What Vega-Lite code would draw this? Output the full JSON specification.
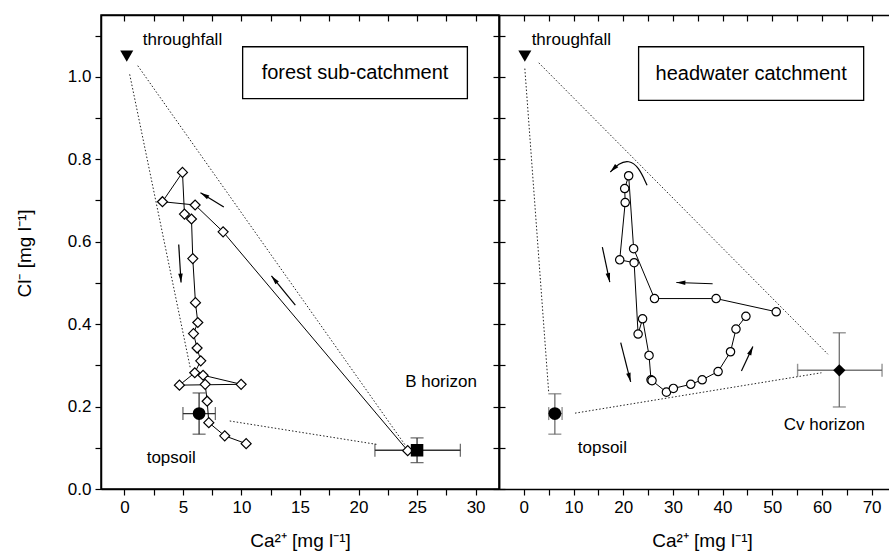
{
  "$schema": "https://vega.github.io/schema/vega-lite/v6.json",
  "autosize": {"type": "pad"},
  "padding": {"left": 14, "top": 13, "right": 0, "bottom": 0},
  "bounds": "flush",
  "spacing": 0,
  "config": {
    "font": "Liberation Sans",
    "view": {"stroke": "#000", "strokeWidth": 1.5},
    "axis": {"grid": false, "domainColor": "#000", "domainWidth": 1.5, "tickColor": "#000", "tickWidth": 1.2, "labelColor": "#000", "labelFont": "Liberation Sans", "labelFontSize": 17, "titleFont": "Liberation Sans", "titleFontSize": 19, "titleFontWeight": "normal", "titleColor": "#000", "tickSize": 6, "labelPadding": 4, "labelOverlap": false, "labelFlush": false}
  },
  "datasets": {
    "forestSeries": [
      {"seq": 1, "ca": 24.2, "cl": 0.093}, {"seq": 2, "ca": 8.43, "cl": 0.624}, {"seq": 3, "ca": 6.04, "cl": 0.689},
      {"seq": 4, "ca": 3.25, "cl": 0.697}, {"seq": 5, "ca": 4.96, "cl": 0.768}, {"seq": 6, "ca": 5.13, "cl": 0.667},
      {"seq": 7, "ca": 5.73, "cl": 0.655}, {"seq": 8, "ca": 5.84, "cl": 0.559}, {"seq": 9, "ca": 6.07, "cl": 0.452},
      {"seq": 10, "ca": 6.27, "cl": 0.404}, {"seq": 11, "ca": 5.9, "cl": 0.377}, {"seq": 12, "ca": 6.21, "cl": 0.342},
      {"seq": 13, "ca": 6.52, "cl": 0.311}, {"seq": 14, "ca": 6.01, "cl": 0.282}, {"seq": 15, "ca": 4.7, "cl": 0.252},
      {"seq": 16, "ca": 9.97, "cl": 0.254}, {"seq": 17, "ca": 6.72, "cl": 0.276}, {"seq": 18, "ca": 6.9, "cl": 0.254},
      {"seq": 19, "ca": 7.07, "cl": 0.213}, {"seq": 20, "ca": 7.21, "cl": 0.161}, {"seq": 21, "ca": 8.57, "cl": 0.129},
      {"seq": 22, "ca": 10.4, "cl": 0.11}
    ],
    "headSeries": [
      {"seq": 1, "ca": 50.8, "cl": 0.43}, {"seq": 2, "ca": 38.7, "cl": 0.462}, {"seq": 3, "ca": 26.3, "cl": 0.462},
      {"seq": 4, "ca": 22.1, "cl": 0.583}, {"seq": 5, "ca": 21.1, "cl": 0.76}, {"seq": 6, "ca": 20.3, "cl": 0.729},
      {"seq": 7, "ca": 20.4, "cl": 0.695}, {"seq": 8, "ca": 19.3, "cl": 0.556}, {"seq": 9, "ca": 22.2, "cl": 0.549},
      {"seq": 10, "ca": 23.0, "cl": 0.376}, {"seq": 11, "ca": 23.9, "cl": 0.413}, {"seq": 12, "ca": 25.2, "cl": 0.324},
      {"seq": 13, "ca": 25.6, "cl": 0.265}, {"seq": 14, "ca": 25.8, "cl": 0.263}, {"seq": 15, "ca": 28.7, "cl": 0.235},
      {"seq": 16, "ca": 30.1, "cl": 0.244}, {"seq": 17, "ca": 33.6, "cl": 0.254}, {"seq": 18, "ca": 35.9, "cl": 0.265},
      {"seq": 19, "ca": 39.1, "cl": 0.285}, {"seq": 20, "ca": 41.6, "cl": 0.333}, {"seq": 21, "ca": 42.7, "cl": 0.388},
      {"seq": 22, "ca": 44.7, "cl": 0.419}
    ],
    "forestEnd": [
      {"name": "throughfall", "ca": 0.2, "cl": 1.05},
      {"name": "topsoil", "ca": 6.38, "cl": 0.183},
      {"name": "B horizon", "ca": 25.0, "cl": 0.094}
    ],
    "headEnd": [
      {"name": "throughfall", "ca": 0.2, "cl": 1.05},
      {"name": "topsoil", "ca": 6.24, "cl": 0.183},
      {"name": "Cv horizon", "ca": 63.5, "cl": 0.288}
    ],
    "forestErr": [
      {"name": "topsoil", "ca": 6.38, "cl": 0.183, "ca_lo": 5.0, "ca_hi": 7.77, "cl_lo": 0.133, "cl_hi": 0.233},
      {"name": "B horizon", "ca": 25.0, "cl": 0.094, "ca_lo": 21.4, "ca_hi": 28.7, "cl_lo": 0.064, "cl_hi": 0.124}
    ],
    "headErr": [
      {"name": "topsoil", "ca": 6.24, "cl": 0.183, "ca_lo": 5.0, "ca_hi": 7.7, "cl_lo": 0.133, "cl_hi": 0.231},
      {"name": "Cv horizon", "ca": 63.5, "cl": 0.288, "ca_lo": 55.1, "ca_hi": 72.1, "cl_lo": 0.199, "cl_hi": 0.379}
    ],
    "forestMix": [
      {"x": 1.14, "y": 1.027, "x2": 24.0, "y2": 0.106},
      {"x": 0.45, "y": 1.006, "x2": 5.64, "y2": 0.292},
      {"x": 9.0, "y": 0.165, "x2": 21.6, "y2": 0.108}
    ],
    "headMix": [
      {"x": 3.0, "y": 1.034, "x2": 61.2, "y2": 0.327},
      {"x": 0.2, "y": 1.02, "x2": 5.0, "y2": 0.235},
      {"x": 10.3, "y": 0.184, "x2": 59.9, "y2": 0.282}
    ],
    "forestArrows": [
      {"x": 8.49, "y": 0.684, "x2": 6.5, "y2": 0.719, "dir": 301.5},
      {"x": 14.6, "y": 0.446, "x2": 12.56, "y2": 0.517, "dir": 320.7},
      {"x": 4.64, "y": 0.593, "x2": 4.84, "y2": 0.501, "dir": 176.4}
    ],
    "headArrows": [
      {"x": 38.0, "y": 0.498, "x2": 30.7, "y2": 0.501, "dir": 272},
      {"x": 15.8, "y": 0.587, "x2": 17.3, "y2": 0.502, "dir": 167.6},
      {"x": 19.5, "y": 0.355, "x2": 21.5, "y2": 0.26, "dir": 165.3},
      {"x": 43.8, "y": 0.286, "x2": 46.1, "y2": 0.346, "dir": 24.3}
    ],
    "curve": [
      {"seq": 1, "ca": 24.8, "cl": 0.737}, {"seq": 2, "ca": 23.1, "cl": 0.782}, {"seq": 3, "ca": 21.1, "cl": 0.798},
      {"seq": 4, "ca": 19.1, "cl": 0.79}, {"seq": 5, "ca": 17.4, "cl": 0.769}
    ],
    "curveHead": [{"ca": 17.4, "cl": 0.769, "dir": 225}],
    "forestLabels": [
      {"ca": 4.96, "cl": 1.089, "text": "throughfall"},
      {"ca": 27.05, "cl": 0.26, "text": "B horizon"},
      {"ca": 4.0, "cl": 0.075, "text": "topsoil"}
    ],
    "headLabels": [
      {"ca": 9.56, "cl": 1.089, "text": "throughfall"},
      {"ca": 15.8, "cl": 0.1, "text": "topsoil"},
      {"ca": 60.5, "cl": 0.155, "text": "Cv horizon"}
    ],
    "forestBox": [{"x1": 10.1, "x2": 29.3, "y1": 0.947, "y2": 1.073, "cx": 19.7, "cy": 1.01, "text": "forest sub-catchment"}],
    "headBox": [{"x1": 23.1, "x2": 68.4, "y1": 0.943, "y2": 1.073, "cx": 45.75, "cy": 1.008, "text": "headwater catchment"}]
  },
  "hconcat": [
    {
      "width": 398,
      "height": 474,
      "resolve": {"axis": {"x": "independent", "y": "independent"}},
      "layer": [
        {
          "data": {"name": "forestMix"},
          "mark": {"type": "rule", "strokeDash": [1.5, 2], "color": "#222", "strokeWidth": 1},
          "encoding": {
            "x": {"field": "x", "type": "quantitative", "scale": {"domain": [-2, 32], "nice": false, "zero": false},
                  "axis": {"orient": "bottom", "values": [0, 2.5, 5, 7.5, 10, 12.5, 15, 17.5, 20, 22.5, 25, 27.5, 30], "labelExpr": "datum.value % 5 === 0 ? datum.label : ''", "title": "Ca²⁺ [mg l⁻¹]", "titlePadding": 16}},
            "y": {"field": "y", "type": "quantitative", "scale": {"domain": [0, 1.15], "nice": false, "zero": false},
                  "axis": {"orient": "left", "values": [0, 0.1, 0.2, 0.3, 0.4, 0.5, 0.6, 0.7, 0.8, 0.9, 1, 1.1], "labelExpr": "round(datum.value * 10) % 2 === 0 ? format(datum.value, '.1f') : ''", "title": "Cl⁻ [mg l⁻¹]", "titleX": -77, "titleY": 238, "titleBaseline": "middle"}},
            "x2": {"field": "x2"},
            "y2": {"field": "y2"}
          }
        },
        {
          "data": {"name": "forestBox"},
          "mark": {"type": "rect", "fill": "#fff", "stroke": "#000", "strokeWidth": 1.3},
          "encoding": {
            "x": {"field": "x1", "type": "quantitative", "axis": {"orient": "top", "values": [0, 2.5, 5, 7.5, 10, 12.5, 15, 17.5, 20, 22.5, 25, 27.5, 30], "labels": false, "title": null, "tickSize": -6}},
            "x2": {"field": "x2"},
            "y": {"field": "y1", "type": "quantitative", "axis": {"orient": "right", "values": [0, 0.1, 0.2, 0.3, 0.4, 0.5, 0.6, 0.7, 0.8, 0.9, 1, 1.1], "labels": false, "title": null, "tickSize": 6}},
            "y2": {"field": "y2"}
          }
        },
        {
          "data": {"name": "forestBox"},
          "mark": {"type": "text", "fontSize": 20, "align": "center", "baseline": "middle", "color": "#000"},
          "encoding": {
            "x": {"field": "cx", "type": "quantitative", "axis": null},
            "y": {"field": "cy", "type": "quantitative", "axis": null},
            "text": {"field": "text"}
          }
        },
        {
          "data": {"name": "forestErr"},
          "mark": {"type": "rule", "color": "#333", "strokeWidth": 1.3},
          "encoding": {
            "x": {"field": "ca_lo", "type": "quantitative", "axis": null},
            "x2": {"field": "ca_hi"},
            "y": {"field": "cl", "type": "quantitative", "axis": null}
          }
        },
        {
          "data": {"name": "forestErr"},
          "mark": {"type": "rule", "color": "#333", "strokeWidth": 1.3},
          "encoding": {
            "x": {"field": "ca", "type": "quantitative", "axis": null},
            "y": {"field": "cl_lo", "type": "quantitative", "axis": null},
            "y2": {"field": "cl_hi"}
          }
        },
        {
          "data": {"name": "forestErr"},
          "mark": {"type": "tick", "orient": "vertical", "color": "#333", "thickness": 1.3, "size": 13},
          "encoding": {
            "x": {"field": "ca_lo", "type": "quantitative", "axis": null},
            "y": {"field": "cl", "type": "quantitative", "axis": null}
          }
        },
        {
          "data": {"name": "forestErr"},
          "mark": {"type": "tick", "orient": "vertical", "color": "#333", "thickness": 1.3, "size": 13},
          "encoding": {
            "x": {"field": "ca_hi", "type": "quantitative", "axis": null},
            "y": {"field": "cl", "type": "quantitative", "axis": null}
          }
        },
        {
          "data": {"name": "forestErr"},
          "mark": {"type": "tick", "orient": "horizontal", "color": "#333", "thickness": 1.3, "size": 13},
          "encoding": {
            "x": {"field": "ca", "type": "quantitative", "axis": null},
            "y": {"field": "cl_lo", "type": "quantitative", "axis": null}
          }
        },
        {
          "data": {"name": "forestErr"},
          "mark": {"type": "tick", "orient": "horizontal", "color": "#333", "thickness": 1.3, "size": 13},
          "encoding": {
            "x": {"field": "ca", "type": "quantitative", "axis": null},
            "y": {"field": "cl_hi", "type": "quantitative", "axis": null}
          }
        },
        {
          "data": {"name": "forestSeries"},
          "mark": {"type": "line", "color": "#000", "strokeWidth": 1},
          "encoding": {
            "x": {"field": "ca", "type": "quantitative", "axis": null},
            "y": {"field": "cl", "type": "quantitative", "axis": null},
            "order": {"field": "seq", "type": "quantitative"}
          }
        },
        {
          "data": {"name": "forestSeries"},
          "mark": {"type": "point", "shape": "diamond", "filled": true, "fill": "#fff", "stroke": "#000", "strokeWidth": 1.2, "size": 100, "opacity": 1},
          "encoding": {
            "x": {"field": "ca", "type": "quantitative", "axis": null},
            "y": {"field": "cl", "type": "quantitative", "axis": null}
          }
        },
        {
          "data": {"name": "forestEnd"},
          "mark": {"type": "point", "filled": true, "color": "#000", "opacity": 1},
          "encoding": {
            "x": {"field": "ca", "type": "quantitative", "axis": null},
            "y": {"field": "cl", "type": "quantitative", "axis": null},
            "shape": {"field": "name", "type": "nominal", "legend": null, "scale": {"domain": ["throughfall", "topsoil", "B horizon", "Cv horizon"], "range": ["triangle-down", "circle", "square", "diamond"]}},
            "size": {"field": "name", "type": "nominal", "legend": null, "scale": {"domain": ["throughfall", "topsoil", "B horizon", "Cv horizon"], "range": [170, 150, 120, 200]}}
          }
        },
        {
          "data": {"name": "forestArrows"},
          "mark": {"type": "rule", "color": "#000", "strokeWidth": 1.2},
          "encoding": {
            "x": {"field": "x", "type": "quantitative", "axis": null},
            "y": {"field": "y", "type": "quantitative", "axis": null},
            "x2": {"field": "x2"},
            "y2": {"field": "y2"}
          }
        },
        {
          "data": {"name": "forestArrows"},
          "mark": {"type": "point", "shape": "M0,0L-0.5,2L0.5,2Z", "filled": true, "color": "#000", "size": 81, "opacity": 1},
          "encoding": {
            "x": {"field": "x2", "type": "quantitative", "axis": null},
            "y": {"field": "y2", "type": "quantitative", "axis": null},
            "angle": {"field": "dir", "type": "quantitative", "scale": null}
          }
        },
        {
          "data": {"name": "forestLabels"},
          "mark": {"type": "text", "fontSize": 17, "align": "center", "baseline": "middle", "color": "#000"},
          "encoding": {
            "x": {"field": "ca", "type": "quantitative", "axis": null},
            "y": {"field": "cl", "type": "quantitative", "axis": null},
            "text": {"field": "text"}
          }
        }
      ]
    },
    {
      "width": 390,
      "height": 474,
      "view": {"stroke": null},
      "resolve": {"axis": {"x": "independent", "y": "independent"}},
      "layer": [
        {
          "data": {"name": "headMix"},
          "mark": {"type": "rule", "strokeDash": [1.5, 2], "color": "#222", "strokeWidth": 1},
          "encoding": {
            "x": {"field": "x", "type": "quantitative", "scale": {"domain": [-5, 73.5], "nice": false, "zero": false},
                  "axis": {"orient": "bottom", "values": [0, 5, 10, 15, 20, 25, 30, 35, 40, 45, 50, 55, 60, 65, 70], "labelExpr": "datum.value % 10 === 0 ? datum.label : ''", "title": "Ca²⁺ [mg l⁻¹]", "titlePadding": 16, "titleX": 203}},
            "y": {"field": "y", "type": "quantitative", "scale": {"domain": [0, 1.15], "nice": false, "zero": false},
                  "axis": {"orient": "left", "values": [0, 0.1, 0.2, 0.3, 0.4, 0.5, 0.6, 0.7, 0.8, 0.9, 1, 1.1], "labels": false, "title": null, "tickSize": 6}},
            "x2": {"field": "x2"},
            "y2": {"field": "y2"}
          }
        },
        {
          "data": {"name": "headBox"},
          "mark": {"type": "rect", "fill": "#fff", "stroke": "#000", "strokeWidth": 1.3},
          "encoding": {
            "x": {"field": "x1", "type": "quantitative", "axis": {"orient": "top", "values": [0, 5, 10, 15, 20, 25, 30, 35, 40, 45, 50, 55, 60, 65, 70], "labels": false, "title": null, "tickSize": -6}},
            "x2": {"field": "x2"},
            "y": {"field": "y1", "type": "quantitative", "axis": null},
            "y2": {"field": "y2"}
          }
        },
        {
          "data": {"name": "headBox"},
          "mark": {"type": "text", "fontSize": 20, "align": "center", "baseline": "middle", "color": "#000"},
          "encoding": {
            "x": {"field": "cx", "type": "quantitative", "axis": null},
            "y": {"field": "cy", "type": "quantitative", "axis": null},
            "text": {"field": "text"}
          }
        },
        {
          "data": {"name": "headErr"},
          "mark": {"type": "rule", "color": "#777", "strokeWidth": 1.4},
          "encoding": {
            "x": {"field": "ca_lo", "type": "quantitative", "axis": null},
            "x2": {"field": "ca_hi"},
            "y": {"field": "cl", "type": "quantitative", "axis": null}
          }
        },
        {
          "data": {"name": "headErr"},
          "mark": {"type": "rule", "color": "#777", "strokeWidth": 1.4},
          "encoding": {
            "x": {"field": "ca", "type": "quantitative", "axis": null},
            "y": {"field": "cl_lo", "type": "quantitative", "axis": null},
            "y2": {"field": "cl_hi"}
          }
        },
        {
          "data": {"name": "headErr"},
          "mark": {"type": "tick", "orient": "vertical", "color": "#666", "thickness": 1.4, "size": 13},
          "encoding": {
            "x": {"field": "ca_lo", "type": "quantitative", "axis": null},
            "y": {"field": "cl", "type": "quantitative", "axis": null}
          }
        },
        {
          "data": {"name": "headErr"},
          "mark": {"type": "tick", "orient": "vertical", "color": "#666", "thickness": 1.4, "size": 13},
          "encoding": {
            "x": {"field": "ca_hi", "type": "quantitative", "axis": null},
            "y": {"field": "cl", "type": "quantitative", "axis": null}
          }
        },
        {
          "data": {"name": "headErr"},
          "mark": {"type": "tick", "orient": "horizontal", "color": "#666", "thickness": 1.4, "size": 13},
          "encoding": {
            "x": {"field": "ca", "type": "quantitative", "axis": null},
            "y": {"field": "cl_lo", "type": "quantitative", "axis": null}
          }
        },
        {
          "data": {"name": "headErr"},
          "mark": {"type": "tick", "orient": "horizontal", "color": "#666", "thickness": 1.4, "size": 13},
          "encoding": {
            "x": {"field": "ca", "type": "quantitative", "axis": null},
            "y": {"field": "cl_hi", "type": "quantitative", "axis": null}
          }
        },
        {
          "data": {"name": "headSeries"},
          "mark": {"type": "line", "color": "#000", "strokeWidth": 1},
          "encoding": {
            "x": {"field": "ca", "type": "quantitative", "axis": null},
            "y": {"field": "cl", "type": "quantitative", "axis": null},
            "order": {"field": "seq", "type": "quantitative"}
          }
        },
        {
          "data": {"name": "headSeries"},
          "mark": {"type": "point", "shape": "circle", "filled": true, "fill": "#fff", "stroke": "#000", "strokeWidth": 1.2, "size": 70, "opacity": 1},
          "encoding": {
            "x": {"field": "ca", "type": "quantitative", "axis": null},
            "y": {"field": "cl", "type": "quantitative", "axis": null}
          }
        },
        {
          "data": {"name": "headEnd"},
          "mark": {"type": "point", "filled": true, "color": "#000", "opacity": 1},
          "encoding": {
            "x": {"field": "ca", "type": "quantitative", "axis": null},
            "y": {"field": "cl", "type": "quantitative", "axis": null},
            "shape": {"field": "name", "type": "nominal", "legend": null, "scale": {"domain": ["throughfall", "topsoil", "B horizon", "Cv horizon"], "range": ["triangle-down", "circle", "square", "diamond"]}},
            "size": {"field": "name", "type": "nominal", "legend": null, "scale": {"domain": ["throughfall", "topsoil", "B horizon", "Cv horizon"], "range": [170, 150, 120, 200]}}
          }
        },
        {
          "data": {"name": "headArrows"},
          "mark": {"type": "rule", "color": "#000", "strokeWidth": 1.2},
          "encoding": {
            "x": {"field": "x", "type": "quantitative", "axis": null},
            "y": {"field": "y", "type": "quantitative", "axis": null},
            "x2": {"field": "x2"},
            "y2": {"field": "y2"}
          }
        },
        {
          "data": {"name": "headArrows"},
          "mark": {"type": "point", "shape": "M0,0L-0.5,2L0.5,2Z", "filled": true, "color": "#000", "size": 81, "opacity": 1},
          "encoding": {
            "x": {"field": "x2", "type": "quantitative", "axis": null},
            "y": {"field": "y2", "type": "quantitative", "axis": null},
            "angle": {"field": "dir", "type": "quantitative", "scale": null}
          }
        },
        {
          "data": {"name": "curve"},
          "mark": {"type": "line", "color": "#000", "strokeWidth": 1.2, "interpolate": "basis"},
          "encoding": {
            "x": {"field": "ca", "type": "quantitative", "axis": null},
            "y": {"field": "cl", "type": "quantitative", "axis": null},
            "order": {"field": "seq", "type": "quantitative"}
          }
        },
        {
          "data": {"name": "curveHead"},
          "mark": {"type": "point", "shape": "M0,0L-0.5,2L0.5,2Z", "filled": true, "color": "#000", "size": 81, "opacity": 1},
          "encoding": {
            "x": {"field": "ca", "type": "quantitative", "axis": null},
            "y": {"field": "cl", "type": "quantitative", "axis": null},
            "angle": {"field": "dir", "type": "quantitative", "scale": null}
          }
        },
        {
          "data": {"name": "headLabels"},
          "mark": {"type": "text", "fontSize": 17, "align": "center", "baseline": "middle", "color": "#000"},
          "encoding": {
            "x": {"field": "ca", "type": "quantitative", "axis": null},
            "y": {"field": "cl", "type": "quantitative", "axis": null},
            "text": {"field": "text"}
          }
        }
      ]
    }
  ]
}
